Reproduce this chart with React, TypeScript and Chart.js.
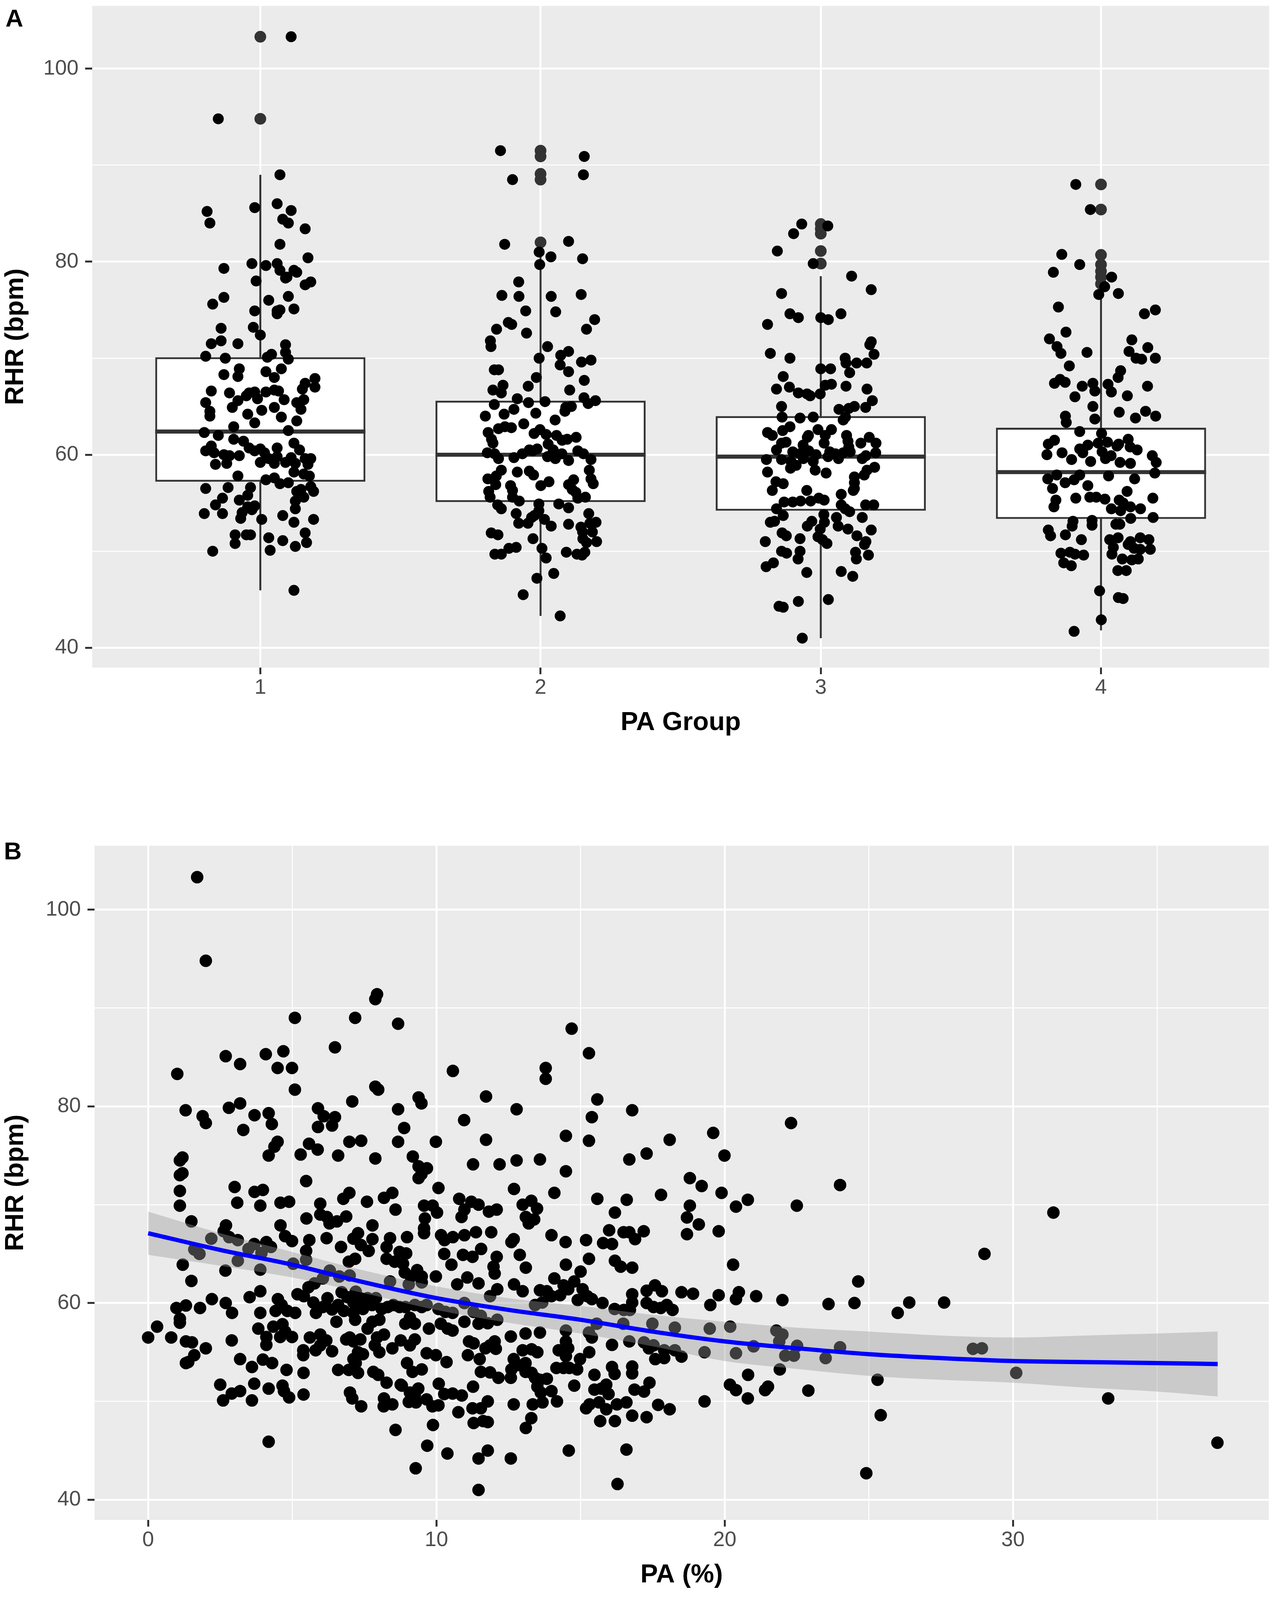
import { useEffect, useRef } from "react";
import { Chart, registerables } from "chart.js";

Chart.register(...registerables);

const FONT = "'Liberation Sans', Arial, Helvetica, sans-serif";

// the figure is laid out for 3264x4414; the viewport may be shorter, so squeeze vertically to fit
const FULL_H = 4414;
const VIEW_H = Math.min(typeof window !== "undefined" && window.innerHeight ? window.innerHeight : FULL_H, FULL_H);
const K = VIEW_H / FULL_H;
const sy = (v: number) => Math.round(v * K);

// ---- Panel A: RHR by PA group (boxplot + jitter) ----
const groups = [1, 2, 3, 4];
const q1 = [57.2, 55.1, 54.2, 53.35];
const medians = [62.4, 60.0, 59.8, 58.2];
const q3 = [70.1, 65.6, 64.0, 62.8];
const whiskerLow = [45.95, 43.3, 41.0, 41.8];
const whiskerHigh = [89.0, 81.0, 78.5, 76.5];
const outliers = [
  [103.3, 94.8],
  [91.5, 90.9, 89.1, 88.5, 82.0],
  [83.9, 83.4, 82.9, 81.1, 79.8],
  [88.0, 85.4, 80.7, 79.7, 79.0, 78.4, 77.7],
];

// jittered points: [offset from group, RHR]
const jitter1 = [
  [0.07,89.0],[-0.19,85.2],[-0.18,84.0],[-0.02,85.6],[0.06,86.0],[0.11,85.3],[0.08,84.4],[0.10,84.0],[0.16,83.4],[0.07,81.8],
  [0.17,80.4],[-0.13,79.3],[-0.03,79.8],[0.02,79.6],[0.06,79.8],[0.07,79.1],[0.12,79.1],[0.13,78.9],[-0.015,78.0],[0.095,78.4],
  [0.09,78.3],[0.18,77.9],[0.16,77.6],[-0.13,76.3],[0.03,76.0],[0.10,76.4],[-0.17,75.6],[-0.02,74.9],[0.06,74.9],[0.07,75.0],
  [0.12,75.1],[0.06,74.6],[-0.14,73.1],[-0.025,73.2],[0.0,72.4],[-0.175,71.5],[-0.14,71.8],[-0.08,71.5],[0.09,71.4],[-0.195,70.2],
  [-0.125,70.0],[0.025,70.1],[0.04,70.4],[0.09,70.6],[0.10,69.9],[-0.075,68.9],[0.075,68.9],[0.02,68.6],[-0.13,68.3],[-0.08,68.1],
  [0.05,68.0],[0.195,67.9],[0.16,67.4],[0.195,67.0],[0.15,66.8],[-0.175,66.6],[-0.11,66.4],[-0.04,66.4],[-0.02,66.5],[0.02,66.5],
  [0.05,66.7],[0.065,66.6],[-0.08,65.6],[-0.05,66.1],[-0.01,65.8],[0.085,65.7],[0.155,65.7],[0.13,65.4],[-0.195,65.4],[-0.18,64.5],
  [-0.18,64.0],[-0.10,64.9],[0.05,64.9],[0.005,64.6],[-0.045,64.2],[0.145,64.7],[0.075,63.9],[-0.02,63.3],[0.13,63.5],[-0.095,62.9],
  [-0.20,62.3],[-0.15,62.0],[0.10,62.5],[-0.095,61.6],[-0.06,61.4],[0.12,61.2],[-0.175,60.9],[-0.04,60.7],[0.0,60.6],[0.06,60.7],
  [0.14,60.5],[-0.195,60.4],[-0.165,60.2],[-0.13,60.0],[-0.11,59.9],[-0.075,59.9],[-0.02,60.4],[0.015,60.2],[0.03,59.6],[0.06,59.8],
  [0.11,59.7],[0.16,59.6],[0.18,59.6],[-0.16,59.0],[-0.12,59.1],[0.0,59.2],[0.05,59.1],[0.09,59.2],[0.125,59.1],[0.17,59.0],
  [0.12,58.2],[0.155,58.0],[0.175,57.8],[-0.08,57.8],[0.02,57.4],[0.05,57.6],[0.07,57.0],[0.10,57.1],[-0.195,56.5],[-0.115,56.6],
  [-0.035,56.6],[0.145,56.4],[0.18,56.7],[0.19,56.2],[-0.045,55.8],[0.13,56.2],[0.155,55.6],[-0.135,55.5],[-0.16,54.8],[-0.075,55.3],
  [-0.045,54.6],[-0.02,54.7],[0.125,55.2],[0.125,54.4],[-0.20,53.9],[-0.135,53.9],[-0.065,54.0],[-0.03,54.3],[0.005,53.3],[0.08,53.7],
  [-0.07,53.4],[0.12,53.0],[0.19,53.3],[-0.09,51.7],[-0.05,51.7],[-0.035,51.7],[0.03,51.4],[0.16,51.9],[-0.09,50.8],[0.08,51.1],
  [0.165,50.9],[0.125,50.5],[-0.17,50.0],[0.035,50.1],[0.12,45.95],[0.11,103.3],[-0.15,94.8],
];
const jitter2 = [
  [-0.143,91.5],[0.156,90.9],[-0.10,88.5],[0.153,89.0],[-0.128,81.8],[0.10,82.1],[-0.005,81.0],[0.037,80.5],[-0.003,79.7],[0.15,80.3],
  [-0.078,77.9],[-0.138,76.5],[-0.077,76.4],[0.038,76.4],[0.145,76.6],[-0.053,74.9],[0.054,74.8],[0.193,74.0],[-0.115,73.7],[-0.103,73.5],
  [-0.157,73.0],[0.164,73.0],[-0.05,72.6],[-0.179,71.8],[-0.177,71.2],[0.025,71.2],[0.10,70.7],[0.072,70.3],[-0.005,70.0],[0.146,69.6],
  [0.18,69.8],[0.07,69.3],[-0.165,68.8],[-0.15,68.8],[0.10,68.6],[-0.015,68.0],[0.156,67.7],[-0.044,67.1],[-0.17,66.7],[-0.134,67.2],
  [-0.14,66.4],[0.104,66.7],[-0.083,65.8],[-0.043,65.4],[0.016,65.5],[0.155,65.9],[0.196,65.6],[0.17,65.3],[-0.165,65.2],[-0.095,64.7],
  [0.09,64.9],[0.11,65.0],[0.087,64.5],[-0.197,64.0],[-0.13,64.2],[-0.017,64.3],[-0.06,63.2],[0.052,63.6],[-0.15,62.7],[-0.127,62.9],
  [-0.104,62.8],[-0.002,62.6],[-0.187,62.3],[-0.023,62.2],[0.02,62.1],[0.057,62.0],[0.127,61.8],[-0.175,61.6],[0.077,61.5],[0.095,61.6],
  [-0.17,61.2],[0.027,61.1],[-0.04,60.5],[-0.012,60.6],[0.045,60.5],[-0.19,60.2],[-0.164,60.1],[-0.065,60.1],[-0.028,60.4],[0.076,60.1],
  [0.133,60.4],[0.153,60.1],[0.025,59.8],[0.18,59.5],[0.10,59.4],[-0.15,59.6],[-0.095,59.7],[0.053,59.6],[-0.14,58.4],[-0.083,58.2],
  [-0.04,58.3],[0.174,58.4],[-0.158,57.8],[-0.025,57.9],[0.18,57.5],[-0.188,57.5],[0.118,57.4],[0.03,57.2],[-0.16,56.9],[0.001,56.8],
  [0.10,56.9],[0.188,57.0],[-0.107,56.8],[-0.10,56.3],[0.113,56.4],[0.126,56.1],[-0.185,56.2],[-0.18,55.6],[-0.10,55.6],[0.16,55.6],
  [0.133,55.5],[-0.076,55.2],[-0.006,54.9],[0.065,54.9],[-0.153,54.8],[-0.006,54.2],[-0.14,54.4],[0.10,54.5],[-0.087,53.9],[-0.022,53.7],
  [0.172,53.9],[-0.032,53.5],[0.014,53.3],[-0.078,52.9],[-0.045,52.9],[0.038,52.6],[0.10,52.8],[0.144,52.5],[0.176,52.9],[0.198,53.0],
  [-0.176,51.9],[-0.152,51.7],[0.15,52.0],[0.185,52.0],[-0.027,51.3],[0.151,51.3],[0.164,50.9],[0.2,51.0],[-0.113,50.3],[-0.087,50.4],
  [0.005,50.3],[-0.163,49.7],[-0.14,49.7],[0.092,49.9],[0.13,49.7],[0.148,49.6],[0.158,49.9],[0.02,49.3],[0.047,47.7],[-0.013,47.2],
  [-0.062,45.5],[0.07,43.3],
];
const jitter3 = [
  [-0.068,83.9],[0.025,83.7],[-0.097,82.9],[-0.155,81.1],[-0.027,79.8],[0.11,78.5],[0.18,77.1],[-0.14,76.7],[-0.11,74.6],[-0.08,74.2],
  [0.0,74.2],[0.027,74.0],[0.072,74.6],[-0.19,73.5],[-0.18,70.5],[-0.11,70.0],[0.175,71.4],[0.18,71.7],[0.19,70.4],[0.087,70.0],
  [0.09,69.5],[0.128,69.5],[0.164,69.5],[0.0,68.9],[0.035,68.9],[0.103,68.5],[-0.134,68.1],[-0.158,66.8],[-0.112,67.0],[0.016,67.2],
  [0.038,67.3],[0.09,67.1],[0.165,66.8],[-0.08,66.4],[-0.049,66.3],[-0.038,66.1],[-0.002,66.3],[0.184,65.6],[-0.14,65.0],[0.065,64.7],
  [0.1,64.8],[0.12,65.0],[0.16,64.9],[-0.138,63.9],[-0.074,63.8],[-0.027,63.9],[0.088,63.9],[0.08,63.6],[-0.136,62.5],[-0.11,62.9],
  [-0.19,62.3],[-0.173,62.0],[-0.044,62.0],[-0.01,62.6],[0.016,62.0],[0.038,62.6],[0.092,62.0],[0.173,61.8],[0.197,61.2],[-0.14,61.2],
  [-0.124,61.3],[-0.063,61.0],[-0.048,61.8],[0.012,61.2],[0.097,61.4],[0.143,61.2],[0.1,60.8],[-0.158,60.5],[-0.1,60.3],[-0.075,60.1],
  [-0.043,60.4],[-0.017,60.0],[0.032,60.3],[0.052,60.1],[0.08,60.2],[0.105,60.3],[0.161,59.9],[0.196,60.2],[-0.194,59.5],[-0.14,59.5],
  [-0.106,59.3],[-0.088,58.9],[-0.062,59.6],[-0.027,59.3],[0.026,59.8],[0.063,59.6],[0.148,59.6],[-0.19,58.2],[-0.108,58.6],[-0.02,58.4],
  [0.019,58.1],[0.165,58.4],[0.192,58.7],[0.155,57.9],[-0.16,57.2],[-0.134,57.0],[0.12,57.7],[0.12,57.1],[0.12,56.5],[-0.173,56.3],
  [-0.05,56.3],[0.073,55.9],[0.116,56.3],[-0.131,55.1],[-0.1,55.1],[-0.072,55.2],[-0.036,55.2],[-0.007,55.5],[0.012,55.3],[0.073,54.8],
  [0.16,54.8],[0.189,54.8],[-0.158,54.4],[0.087,54.4],[0.103,54.1],[0.011,53.8],[-0.134,53.7],[-0.165,53.1],[-0.18,53.0],[-0.032,53.1],
  [0.013,53.0],[0.056,53.5],[0.148,53.5],[-0.048,52.6],[-0.002,52.3],[0.062,52.6],[0.097,52.3],[0.18,52.2],[-0.138,51.9],[-0.01,51.5],
  [0.129,51.6],[-0.123,51.6],[-0.074,51.3],[0.006,51.2],[0.022,50.8],[-0.198,51.0],[0.161,51.0],[0.156,50.7],[-0.14,50.0],[-0.122,49.8],
  [-0.074,50.0],[0.124,49.9],[0.17,49.6],[-0.081,49.2],[0.127,49.2],[-0.195,48.4],[-0.169,48.8],[-0.05,47.8],[0.073,47.9],[0.114,47.4],
  [-0.149,44.3],[-0.134,44.2],[-0.08,44.8],[0.027,45.0],[-0.066,41.0],
];
const jitter4 = [
  [-0.09,88.0],[-0.038,85.4],[-0.14,80.75],[-0.076,79.7],[-0.17,78.9],[0.038,78.4],[0.013,77.4],[-0.008,76.6],[0.062,76.7],[-0.152,75.3],
  [0.155,74.6],[0.194,75.0],[-0.125,72.7],[-0.184,72.0],[-0.157,71.2],[-0.143,70.5],[-0.05,70.6],[0.11,71.9],[0.1,70.7],[0.125,70.0],
  [0.145,69.9],[0.167,71.1],[0.194,70.0],[-0.113,69.2],[0.07,68.7],[0.061,68.0],[-0.166,67.4],[-0.146,67.8],[-0.128,67.5],[-0.067,67.1],
  [-0.029,67.4],[-0.022,66.6],[0.025,67.3],[0.037,66.5],[0.166,67.1],[-0.093,66.0],[0.094,66.1],[-0.029,65.0],[-0.127,64.0],[-0.124,63.35],
  [-0.022,63.7],[0.065,64.4],[0.123,63.8],[0.159,64.5],[0.195,64.0],[-0.076,62.4],[0.002,62.2],[-0.188,61.1],[-0.166,61.5],[-0.076,60.6],
  [-0.047,61.0],[-0.01,61.2],[0.023,61.3],[0.057,60.9],[0.097,61.6],[0.104,60.8],[0.063,61.1],[0.129,60.5],[-0.193,60.0],[-0.139,60.2],
  [-0.105,59.5],[-0.065,60.2],[-0.037,59.3],[0.004,60.3],[0.036,59.9],[0.068,59.2],[0.105,59.1],[0.183,59.9],[0.197,59.2],[0.016,59.6],
  [-0.19,57.5],[-0.158,57.9],[-0.128,57.1],[-0.096,57.4],[-0.076,57.9],[-0.047,56.8],[0.027,57.8],[0.12,57.5],[0.192,58.1],[-0.173,56.5],
  [-0.161,55.3],[-0.09,55.5],[-0.04,55.6],[-0.017,55.6],[0.014,55.4],[0.093,56.2],[0.065,55.3],[0.079,55.0],[0.185,55.5],[-0.168,54.6],
  [0.037,54.4],[0.07,54.2],[0.105,54.6],[0.141,54.4],[0.186,53.5],[0.106,53.4],[-0.1,53.1],[-0.032,53.2],[-0.103,52.6],[-0.032,52.7],
  [0.053,52.8],[0.067,52.8],[-0.188,52.2],[-0.18,51.6],[-0.127,51.7],[-0.07,51.2],[0.031,51.2],[0.061,51.4],[0.105,51.0],[0.14,51.4],
  [0.171,51.2],[0.044,50.4],[0.097,50.7],[0.118,50.3],[0.14,50.2],[0.176,50.2],[-0.143,49.8],[-0.111,49.9],[-0.093,49.7],[-0.062,49.6],
  [0.039,49.7],[0.076,49.2],[0.133,49.2],[0.11,49.1],[-0.133,48.8],[-0.106,48.5],[0.06,48.0],[0.09,48.0],[-0.005,45.9],[0.062,45.2],
  [0.079,45.1],[0.001,42.9],[-0.096,41.7],
];
const jitterByGroup = [jitter1, jitter2, jitter3, jitter4];

// ---- Panel B: RHR vs PA (%) scatter + loess ----
const paRhr = [
  [1.70,103.3],[2.00,94.8],[7.94,91.4],[7.88,90.9],[5.09,89.0],[7.18,89.0],[8.67,88.4],[6.48,86.0],[2.69,85.1],[3.19,84.3],
  [4.08,85.3],[4.69,85.6],[4.49,83.9],[4.99,83.9],[5.09,81.7],[1.01,83.3],[10.57,83.6],[7.88,82.0],[7.98,81.7],[7.08,80.5],
  [9.38,80.9],[9.48,80.3],[11.72,81.0],[1.30,79.6],[1.89,79.0],[2.0,78.3],[2.80,79.85],[3.19,80.3],[3.69,79.1],[4.18,79.3],
  [4.29,78.2],[3.30,77.6],[5.89,79.8],[6.09,79.0],[6.48,78.9],[6.38,78.05],[5.89,77.9],[8.67,79.7],[8.88,77.8],[10.96,78.6],
  [4.49,76.4],[4.38,75.9],[4.18,75.0],[5.58,76.2],[5.88,75.6],[5.29,75.1],[6.59,75.0],[6.98,76.4],[7.39,76.5],[8.67,76.4],
  [9.98,76.4],[11.72,76.6],[1.19,74.8],[1.10,74.5],[1.19,73.2],[1.10,73.0],[1.10,71.4],[1.10,69.9],[7.88,74.7],[9.18,74.9],
  [9.38,73.9],[9.67,73.7],[9.38,72.7],[9.48,73.1],[11.27,74.1],[5.48,72.4],[3.0,71.8],[3.69,71.3],[3.98,71.5],[3.09,70.2],
  [3.89,69.9],[6.98,71.2],[6.77,70.6],[8.47,71.2],[8.18,70.7],[8.58,69.5],[10.07,71.7],[4.59,70.2],[4.89,70.3],[5.97,70.1],
  [7.59,70.3],[10.79,70.6],[10.97,69.5],[10.87,68.75],[11.21,70.3],[11.46,70.0],[9.57,69.9],[9.87,69.9],[10.02,69.2],[1.50,68.3],
  [5.49,68.6],[5.97,69.0],[6.2,68.75],[6.29,68.1],[6.55,68.3],[6.87,68.8],[4.59,67.9],[7.78,67.9],[9.6,68.6],[9.57,67.6],
  [9.57,67.1],[2.70,67.9],[2.62,67.3],[2.81,66.7],[3.11,66.4],[2.19,66.55],[4.75,66.8],[4.99,66.3],[5.59,66.4],[6.19,66.6],
  [7.28,67.1],[7.12,66.55],[7.38,65.9],[7.78,66.5],[8.39,66.6],[8.98,66.7],[10.16,66.9],[10.28,66.4],[10.57,66.7],[10.97,66.9],
  [11.37,67.2],[3.68,66.0],[4.1,66.2],[3.48,65.5],[3.93,65.1],[4.26,65.7],[1.60,65.45],[1.78,65.0],[5.48,65.3],[6.69,65.7],
  [7.65,65.3],[8.27,65.7],[8.72,65.2],[8.95,65.05],[10.27,65.0],[10.92,64.9],[11.25,64.7],[11.55,65.5],[1.2,63.9],[3.11,64.3],
  [2.68,63.3],[3.89,63.4],[5.48,64.4],[5.03,64.0],[6.96,64.2],[7.18,64.5],[8.27,64.5],[8.55,64.2],[8.84,64.0],[8.9,63.1],
  [9.33,63.35],[9.49,62.7],[10.52,63.9],[9.12,62.7],[1.50,62.25],[6.30,63.3],[6.63,62.7],[6.99,62.8],[8.39,62.2],[9.04,61.9],
  [9.49,62.1],[9.98,62.7],[10.72,61.9],[11.07,62.6],[11.46,62.0],[5.77,62.0],[5.56,61.6],[6.06,62.5],[2.21,60.4],[2.69,60.0],
  [3.52,60.6],[3.89,61.2],[5.18,60.9],[5.40,60.7],[0.98,59.5],[1.31,59.75],[1.80,59.5],[1.10,58.4],[1.10,58.0],[2.91,59.0],
  [3.89,59.0],[4.50,60.4],[4.63,59.8],[4.42,59.2],[4.83,59.2],[5.10,59.0],[5.73,60.05],[5.82,59.0],[6.06,59.6],[6.22,60.5],
  [6.38,59.35],[6.59,59.8],[6.71,61.1],[6.91,60.6],[7.12,60.05],[7.2,61.15],[7.36,60.5],[7.61,60.5],[7.77,59.8],[7.9,60.5],
  [6.79,59.2],[7.12,59.0],[7.45,59.4],[8.10,59.4],[8.31,59.6],[8.51,59.8],[8.72,59.6],[8.92,59.6],[9.25,59.8],[9.49,59.6],
  [9.66,59.8],[10.07,59.4],[10.31,59.1],[10.56,59.0],[10.97,60.0],[11.29,59.1],[11.54,58.7],[7.18,58.3],[7.78,58.1],[8.02,58.3],
  [6.53,58.1],[8.92,57.9],[9.08,58.5],[9.25,57.9],[9.74,57.4],[10.15,57.9],[10.39,57.4],[10.56,57.2],[10.97,58.1],[11.46,57.9],
  [0.31,57.6],[0.0,56.5],[0.80,56.5],[1.31,56.1],[1.52,56.0],[2.0,55.4],[1.60,54.7],[1.31,53.9],[1.39,54.0],[2.90,56.2],
  [3.19,54.3],[3.60,53.5],[3.98,54.25],[4.30,53.9],[3.82,57.4],[4.1,56.55],[4.1,55.75],[4.34,57.6],[4.66,57.85],[4.58,56.55],
  [4.75,57.1],[4.99,56.55],[4.80,53.2],[5.38,55.2],[5.38,54.7],[5.61,56.5],[5.39,52.9],[5.81,55.2],[5.97,55.7],[6.18,56.2],
  [5.97,56.8],[6.38,55.1],[6.59,53.2],[6.87,56.3],[6.99,56.5],[7.12,56.1],[7.36,56.3],[7.28,55.0],[7.45,54.8],[7.12,54.3],
  [7.2,53.9],[6.96,53.2],[7.28,52.9],[7.61,57.4],[7.94,56.5],[8.18,56.8],[7.86,55.7],[8.02,55.0],[8.47,55.4],[8.76,56.2],
  [9.08,55.7],[9.25,56.3],[7.81,53.0],[7.98,52.7],[8.27,51.9],[8.76,51.7],[8.98,53.9],[9.17,53.0],[9.49,53.25],[9.66,54.9],
  [9.98,54.7],[10.35,54.0],[11.13,56.1],[11.29,55.9],[11.09,54.7],[11.50,54.3],[11.70,55.4],[11.54,53.0],[2.50,51.7],[2.60,50.1],
  [2.90,50.8],[3.19,51.05],[3.68,51.8],[3.60,50.1],[4.18,51.3],[4.66,51.6],[4.71,51.05],[4.89,50.4],[5.39,50.7],[7.0,50.9],
  [7.08,50.3],[7.39,49.5],[8.18,50.3],[8.17,49.5],[8.47,49.7],[8.80,51.6],[9.08,50.9],[9.25,50.6],[9.37,51.3],[9.04,49.95],
  [9.29,49.9],[9.66,50.2],[9.86,49.5],[10.07,49.6],[10.27,50.75],[10.56,50.8],[10.88,50.6],[10.08,51.8],[11.27,51.5],[11.25,49.3],
  [11.54,49.3],[11.29,47.8],[11.62,48.0],[10.76,48.9],[9.88,47.6],[8.58,47.1],[4.18,45.9],[9.68,45.5],[10.38,44.7],[9.28,43.2],
  [11.46,44.2],[11.46,41.0],
  [14.69,87.9],[15.29,85.4],[13.79,83.9],[13.79,82.8],[12.78,79.7],[15.58,80.7],[15.39,78.9],[16.79,79.6],[14.49,77.0],[15.29,76.5],
  [12.78,74.5],[13.59,74.6],[12.19,74.1],[14.49,73.4],[16.69,74.6],[17.29,75.2],[18.09,76.6],[12.69,71.6],[14.09,71.2],[15.58,70.6],
  [16.60,70.5],[17.79,71.0],[19.60,77.3],[19.99,75.0],[22.30,78.3],[18.79,72.7],[19.20,71.9],[19.89,71.2],[20.39,69.8],[20.80,70.5],
  [22.50,69.9],[24.0,72.0],[18.79,69.9],[18.69,68.7],[19.10,68.0],[18.69,67.0],[19.79,67.3],[12.99,70.0],[13.29,70.4],[13.49,69.6],
  [13.2,68.1],[13.39,68.5],[13.1,68.75],[12.09,69.5],[11.82,69.3],[11.90,67.2],[12.60,66.2],[12.68,66.5],[12.89,64.9],[13.1,63.6],
  [13.99,66.9],[14.48,66.2],[15.19,66.4],[15.29,64.5],[14.49,63.9],[15.99,67.4],[15.78,66.1],[16.09,66.0],[16.49,67.2],[16.69,67.2],
  [16.89,66.5],[17.19,67.3],[16.19,69.2],[16.19,64.3],[16.39,63.7],[16.79,63.6],[12.09,64.7],[11.98,63.7],[12.02,63.0],[15.0,63.2],
  [14.09,62.5],[12.69,61.9],[13.59,61.3],[14.41,61.8],[14.57,61.4],[14.78,62.2],[14.29,60.8],[15.07,61.4],[15.23,60.7],[15.39,60.4],
  [14.9,60.3],[12.99,61.2],[12.11,61.4],[11.86,60.7],[13.83,61.2],[13.99,60.7],[13.67,60.05],[13.42,59.8],[15.76,60.0],[16.18,59.4],
  [16.5,59.3],[16.79,60.9],[16.79,60.05],[16.71,59.3],[17.29,61.25],[17.58,61.8],[17.82,61.2],[17.29,60.0],[17.53,59.6],[17.78,59.5],
  [17.99,59.8],[18.19,59.3],[18.50,61.1],[18.9,60.95],[19.5,59.8],[19.79,60.8],[20.49,61.1],[20.39,60.4],[21.09,60.7],[22.0,60.3],
  [23.6,59.9],[24.5,60.0],[20.29,63.9],[24.63,62.2],[14.49,57.2],[14.49,56.1],[14.57,55.4],[15.29,57.0],[15.39,56.5],[15.56,57.9],
  [16.48,57.9],[16.09,55.75],[16.69,56.1],[17.2,56.0],[17.53,55.7],[17.37,55.4],[17.49,57.9],[17.9,55.2],[18.27,57.5],[18.27,55.2],
  [18.5,54.55],[17.59,54.3],[17.9,54.4],[19.48,57.4],[19.3,55.0],[20.19,57.6],[20.39,54.9],[21.0,55.6],[21.79,57.2],[22.0,56.8],
  [21.89,56.1],[22.1,54.65],[22.4,54.65],[22.51,55.65],[24.0,55.5],[23.5,54.4],[21.91,53.25],[20.81,52.7],[20.18,51.7],[20.39,51.15],
  [20.8,50.3],[21.4,51.15],[21.5,51.5],[22.9,51.1],[19.30,50.0],[17.69,49.65],[18.09,49.2],[17.29,48.4],[16.79,48.55],[12.11,58.3],
  [11.78,57.95],[12.58,56.6],[13.09,56.9],[13.59,57.0],[12.02,56.1],[12.06,55.35],[11.86,55.7],[12.99,55.2],[13.3,55.3],[13.5,55.0],
  [14.24,55.2],[14.49,54.6],[14.98,54.3],[15.3,55.0],[12.68,54.3],[12.83,53.7],[13.09,53.9],[12.6,53.25],[11.86,52.95],[12.15,52.4],
  [12.58,52.4],[13.09,53.0],[13.3,52.9],[13.42,52.4],[13.59,52.2],[13.83,52.3],[13.5,51.5],[13.62,50.9],[13.99,51.05],[14.16,53.4],
  [14.41,53.4],[14.61,53.4],[14.88,53.25],[14.78,51.6],[15.48,52.7],[15.48,51.2],[15.72,51.3],[15.89,51.7],[15.97,50.75],[16.09,53.5],
  [16.18,52.8],[16.79,53.55],[16.79,52.85],[16.87,51.2],[17.2,51.0],[17.39,51.9],[15.19,49.3],[15.31,49.7],[15.64,49.9],[15.89,49.2],
  [16.26,49.7],[16.59,49.9],[15.68,48.0],[16.19,48.0],[12.68,49.7],[13.34,49.7],[13.68,49.9],[14.18,50.0],[11.78,50.0],[11.78,47.9],
  [13.29,48.3],[13.1,47.3],[11.78,45.0],[12.58,44.2],[14.59,45.0],[16.59,45.1],[16.28,41.6],
  [29.01,65.0],[31.40,69.2],[26.40,60.05],[27.61,60.05],[26.0,59.0],[28.61,55.35],[28.92,55.4],[30.11,52.9],[25.30,52.2],[25.41,48.6],
  [24.91,42.7],[33.30,50.3],[37.09,45.8],
];
const loessX = [0, 2.5, 5, 7.5, 10, 12.5, 15, 17.5, 20, 22.5, 25, 27.5, 30, 32.5, 35, 37.1];
const loessFit = [67.1, 65.4, 63.9, 62.1, 60.5, 59.3, 58.3, 57.1, 56.1, 55.4, 54.8, 54.4, 54.1, 54.0, 53.9, 53.8];
const loessLow = [64.9, 63.8, 62.6, 61.0, 59.3, 58.0, 56.9, 55.6, 54.1, 53.3, 52.6, 52.2, 51.9, 51.4, 51.0, 50.5];
const loessHigh = [69.3, 67.1, 65.2, 63.3, 61.7, 60.5, 59.7, 58.8, 58.1, 57.5, 57.1, 56.7, 56.5, 56.7, 56.9, 57.1];

const rhrTicks = [40, 50, 60, 70, 80, 90, 100];
const groupTicks = [1, 2, 3, 4];
const paTicks = [0, 5, 10, 15, 20, 25, 30, 35];

const TICK_FONT = Math.round(58 * K);
const TITLE_FONT = Math.round(72 * K);
const LABEL_FONT = Math.round(68 * K);

const panelBg = {
  id: "panelBg",
  beforeDraw(chart: Chart) {
    const { ctx, chartArea: a } = chart;
    ctx.save();
    ctx.fillStyle = "#EBEBEB";
    ctx.fillRect(a.left, a.top, a.right - a.left, a.bottom - a.top);
    ctx.restore();
  },
};

const isMajor = (v: number, every: number) => Math.abs(v % every) < 1e-9;

function gridFor(every: number, tickLength: number) {
  return {
    color: "#FFFFFF",
    lineWidth: (c: any) => (c.tick && isMajor(c.tick.value, every) ? 5 : 2.5),
    drawTicks: true,
    tickLength,
    tickWidth: 5,
    tickColor: (c: any) => (c.tick && isMajor(c.tick.value, every) ? "#333333" : "rgba(0,0,0,0)"),
  };
}

// no extra room for half-labels at the ends of the axes
function noEdgePadding(s: any) {
  s.paddingTop = 0;
  s.paddingBottom = 0;
  s.paddingLeft = 0;
  s.paddingRight = 0;
}

function yAxis(width: number) {
  return {
    type: "linear" as const,
    min: 37.95,
    max: 106.5,
    afterFit: (s: any) => { s.width = width; noEdgePadding(s); },
    afterBuildTicks: (s: any) => { s.ticks = rhrTicks.map((v) => ({ value: v })); },
    grid: gridFor(20, 18),
    border: { display: false },
    ticks: {
      color: "#4D4D4D",
      font: { family: FONT, size: TICK_FONT },
      padding: 17,
      callback: (v: any) => (isMajor(Number(v), 20) ? String(v) : ""),
    },
    title: { display: true, text: "RHR (bpm)", color: "#000000", font: { family: FONT, size: TITLE_FONT, weight: "bold" as const }, padding: 0 },
  };
}

function xAxis(min: number, max: number, ticks: number[], every: number, label: string) {
  return {
    type: "linear" as const,
    min,
    max,
    offset: false,
    afterFit: (s: any) => { s.height = sy(196); noEdgePadding(s); },
    afterBuildTicks: (s: any) => { s.ticks = ticks.map((v) => ({ value: v })); },
    grid: { ...gridFor(every, sy(18)), offset: false },
    border: { display: false },
    ticks: {
      color: "#4D4D4D",
      font: { family: FONT, size: TICK_FONT },
      padding: sy(3),
      autoSkip: false,
      maxRotation: 0,
      callback: (v: any) => (isMajor(Number(v), every) ? String(v) : ""),
    },
    title: { display: true, text: label, color: "#000000", font: { family: FONT, size: TITLE_FONT, weight: "bold" as const }, padding: 0 },
  };
}

const commonOptions = {
  responsive: false,
  animation: false as const,
  devicePixelRatio: 1,
  events: [] as any[],
  plugins: { legend: { display: false }, tooltip: { enabled: false } },
};

function boxChartConfig(): any {
  const whiskers = groups.map((g, i) => ({
    type: "line",
    data: [{ x: g, y: whiskerLow[i] }, { x: g, y: whiskerHigh[i] }],
    borderColor: "#333333",
    borderWidth: 5,
    pointRadius: 0,
    fill: false,
    order: 4,
  }));
  const barCommon = { type: "bar", grouped: false, categoryPercentage: 1, barPercentage: 0.75, borderSkipped: false };
  return {
    type: "scatter",
    data: {
      datasets: [
        ...whiskers,
        {
          ...barCommon,
          data: groups.map((g, i) => ({ x: g, y: [q1[i], q3[i]] })),
          backgroundColor: "#FFFFFF",
          borderColor: "#333333",
          borderWidth: 5,
          order: 3,
        },
        {
          ...barCommon,
          data: groups.map((g, i) => ({ x: g, y: [medians[i] - 0.21, medians[i] + 0.21] })),
          backgroundColor: "#333333",
          borderWidth: 0,
          order: 2,
        },
        {
          type: "scatter",
          data: groups.flatMap((g, i) => outliers[i].map((y) => ({ x: g, y }))),
          pointBackgroundColor: "#333333",
          pointBorderColor: "#333333",
          pointBorderWidth: 0,
          pointRadius: 15,
          order: 1,
        },
        {
          type: "scatter",
          data: groups.flatMap((g, i) => jitterByGroup[i].map(([dx, y]) => ({ x: g + dx, y }))),
          pointBackgroundColor: "#000000",
          pointBorderColor: "#000000",
          pointBorderWidth: 0,
          pointRadius: 14,
          order: 0,
        },
      ],
    },
    options: {
      ...commonOptions,
      layout: { padding: { top: sy(3), right: 6, bottom: sy(163), left: 0 } },
      scales: { x: xAxis(0.4, 4.6, groupTicks, 1, "PA Group"), y: yAxis(236) },
    },
    plugins: [panelBg],
  };
}

function scatterChartConfig(): any {
  const curve = { type: "line", pointRadius: 0, cubicInterpolationMode: "monotone" };
  return {
    type: "scatter",
    data: {
      datasets: [
        {
          type: "scatter",
          data: paRhr.map(([x, y]) => ({ x, y })),
          pointBackgroundColor: "#000000",
          pointBorderColor: "#000000",
          pointBorderWidth: 0,
          pointRadius: 16,
          order: 3,
        },
        {
          ...curve,
          data: loessX.map((x, i) => ({ x, y: loessHigh[i] })),
          borderColor: "rgba(0,0,0,0)",
          borderWidth: 1,
          backgroundColor: "rgba(153,153,153,0.4)",
          fill: "+1",
          order: 2,
        },
        {
          ...curve,
          data: loessX.map((x, i) => ({ x, y: loessLow[i] })),
          borderColor: "rgba(0,0,0,0)",
          borderWidth: 1,
          fill: false,
          order: 2,
        },
        {
          ...curve,
          data: loessX.map((x, i) => ({ x, y: loessFit[i] })),
          borderColor: "#0000FF",
          borderWidth: 11,
          fill: false,
          order: 0,
        },
      ],
    },
    options: {
      ...commonOptions,
      layout: { padding: { top: sy(133), right: 8, bottom: sy(25), left: 0 } },
      scales: { x: xAxis(-1.86, 38.87, paTicks, 10, "PA (%)"), y: yAxis(242) },
    },
    plugins: [panelBg],
  };
}

const panelLabel = {
  position: "absolute" as const,
  fontFamily: FONT,
  fontWeight: 700,
  fontSize: LABEL_FONT,
  lineHeight: `${LABEL_FONT}px`,
  color: "#000000",
  margin: 0,
};

const A_HEIGHT = sy(2200);
const B_HEIGHT = VIEW_H - A_HEIGHT;

export default function App() {
  const refA = useRef<HTMLCanvasElement>(null);
  const refB = useRef<HTMLCanvasElement>(null);

  useEffect(() => {
    document.body.style.margin = "0";
    if (!refA.current || !refB.current) return;
    const chartA = new Chart(refA.current, boxChartConfig());
    const chartB = new Chart(refB.current, scatterChartConfig());
    return () => {
      chartA.destroy();
      chartB.destroy();
    };
  }, []);

  return (
    <div style={{ position: "absolute", left: 0, top: 0, width: 3264, height: VIEW_H, background: "#FFFFFF", overflow: "hidden" }}>
      <canvas ref={refA} width={3264} height={A_HEIGHT} style={{ position: "absolute", left: 0, top: 0, width: 3264, height: A_HEIGHT }} />
      <canvas ref={refB} width={3264} height={B_HEIGHT} style={{ position: "absolute", left: 0, top: A_HEIGHT, width: 3264, height: B_HEIGHT }} />
      <div style={{ ...panelLabel, left: 14, top: sy(16) }}>A</div>
      <div style={{ ...panelLabel, left: 10, top: sy(2314) }}>B</div>
    </div>
  );
}
